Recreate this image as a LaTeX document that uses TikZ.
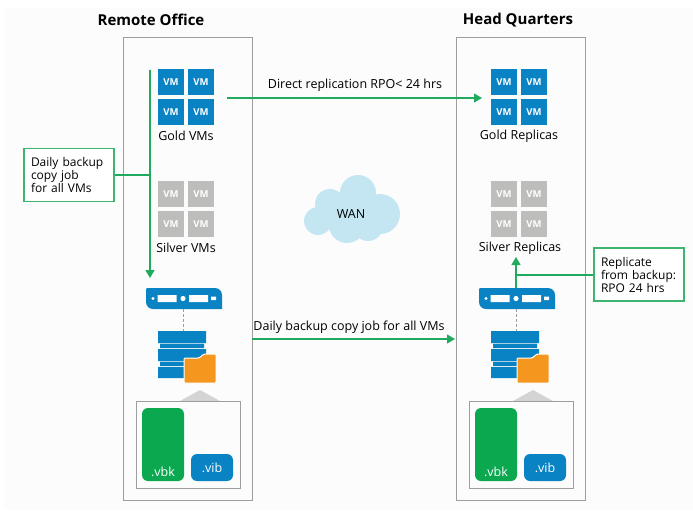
\documentclass[tikz,border=0pt]{standalone}
\usepackage{fontspec}
\setmainfont{Open Sans}
\usepackage{tikz}
\usetikzlibrary{positioning, arrows.meta}
\definecolor{vmblue}{HTML}{0A83C4}
\definecolor{vmgray}{HTML}{BDBDBB}
\definecolor{linegreen}{HTML}{1FAA5E}
\definecolor{boxgreen}{HTML}{3DB56F}
\definecolor{vbkgreen}{HTML}{0BA84F}
\definecolor{folderorange}{HTML}{F5961F}
\definecolor{cloudblue}{HTML}{C4E6F3}
\definecolor{framegray}{HTML}{A09E9C}
\definecolor{paper}{HTML}{FCFCFC}
\tikzset{
  office/.style={draw=framegray, line width=1pt, minimum width=129pt, minimum height=463pt, inner sep=0pt},
  title/.style={font=\fontsize{15}{17}\selectfont\bfseries},
  vmtile/.style={minimum size=25.5pt, inner sep=0pt, text=white, font=\fontsize{9.5}{10}\selectfont\bfseries},
  caption/.style={font=\fontsize{12.5}{14}\selectfont},
  callout/.style={draw=boxgreen, line width=1.3pt, fill=white, minimum width=90pt, minimum height=53pt, inner sep=7pt, align=left, font=\fontsize{12}{13}\selectfont, text width=76pt},
  link/.style={draw=linegreen, line width=1.3pt, -{Triangle[length=8pt, width=9pt]}},
  plainlink/.style={draw=linegreen, line width=1.3pt},
  backup/.style={rounded corners=6pt, inner sep=0pt, minimum width=42pt, text=white, font=\fontsize{12.5}{14}\selectfont}
}
\begin{document}
\begin{tikzpicture}[x=1pt, y=-1pt]
\useasboundingbox (0,0) rectangle (693,515);
\fill[white] (0,0) rectangle (693,515);
\fill[paper] (4,8) rectangle (693,510);

\node (remote) [office] at (187.5,268.5) {};
\node (hq) [office] at (520.5,268.5) {};
\node (remoteTitle) [title] at (151,20) {Remote Office};
\node (hqTitle) [title] at (518,20) {Head Quarters};

% tiles, server, storage and files are the same in both offices
\foreach \ox/\pre in {0/rem, 333/hq} {
  \foreach \tx/\ty/\tid in {171/82/a, 201/82/b, 171/112/c, 201/112/d} {
    \node (\pre gold\tid) [vmtile, fill=vmblue] at (\tx+\ox,\ty) {VM};
  }
  \foreach \tx/\ty/\tid in {171/194/a, 201/194/b, 171/224/c, 201/224/d} {
    \node (\pre silver\tid) [vmtile, fill=vmgray] at (\tx+\ox,\ty) {VM};
  }
  \coordinate (\pre srvbot) at (183+\ox,309);
  \coordinate (\pre stortop) at (183+\ox,331);
  \fill[vmblue] (146+\ox,288) [rounded corners=7pt] -- (222+\ox,288) [sharp corners] -- (222+\ox,309) [rounded corners=7pt] -- (146+\ox,309) [rounded corners=1pt] -- cycle;
  \fill[white] (153+\ox,298.5) circle (1.6pt) (183+\ox,298.5) circle (2.6pt);
  \fill[white] (157.5+\ox,295) rectangle (176.5+\ox,302) (189+\ox,295) rectangle (208+\ox,302) (211+\ox,296.5) rectangle (216+\ox,300);
  \draw[framegray, densely dashed, line width=1pt] (\pre srvbot) -- (\pre stortop);
  % storage stack with the folder on top
  \fill[vmblue] (158+\ox,331) rectangle (206+\ox,343) (160+\ox,343.8) rectangle (204+\ox,348.2) (158+\ox,349) rectangle (206+\ox,361) (160+\ox,361.8) rectangle (204+\ox,366.2) (158+\ox,367) rectangle (206+\ox,378);
  \fill[folderorange, draw=white, line width=1pt, rounded corners=1pt] (184+\ox,358) -- (199+\ox,358) -- (204+\ox,354) -- (216+\ox,354) -- (216+\ox,383) -- (184+\ox,383) -- cycle;
  \fill[black!17] (180+\ox,401) -- (200+\ox,390) -- (220+\ox,401) -- cycle;
  \node (\pre files) [draw=framegray, line width=1pt, fill=paper, minimum width=104pt, minimum height=87pt, inner sep=0pt] at (188+\ox,444.5) {};
  \node (\pre vbk) [backup, fill=vbkgreen, minimum height=73pt, label={[text=white, anchor=south, yshift=1pt, font=\fontsize{12.5}{14}\selectfont]south:.vbk}] at (163+\ox,444.5) {};
  \node (\pre vib) [backup, fill=vmblue, minimum height=27pt, text depth=0pt] at (212+\ox,467.5) {.vib};
}

\node (goldVMs) [caption] at (186,136) {Gold VMs};
\node (silverVMs) [caption] at (186,248) {Silver VMs};
\node (goldRep) [caption] at (519,136) {Gold Replicas};
\node (silverRep) [caption] at (520,248) {Silver Replicas};

% WAN cloud
\fill[cloudblue] (358,193) circle (18pt) (330,204) circle (15pt) (318,221) circle (14pt) (380,214) circle (20pt) (347,225) circle (18pt) (368,226) circle (15pt) (345,210) circle (15pt);
\node (wan) [caption] at (351,214) {WAN};

\node (dailyBox) [callout] at (69,175) {Daily backup\\copy job\\for all VMs};
\node (replBox) [callout] at (639,274.5) {Replicate\\from backup:\\RPO 24 hrs};

\coordinate (copyTop) at (150,70);
\coordinate (copyEnd) at (150,278);
\coordinate (copyJoin) at (150,175);
\coordinate (directStart) at (227,98);
\coordinate (directEnd) at (482,98);
\coordinate (dailyStart) at (252,339);
\coordinate (dailyEnd) at (455,339);
\coordinate (replStart) at (516,288);
\coordinate (replEnd) at (516,257);
\coordinate (replJoin) at (516,275);

\draw[link] (copyTop) -- (copyEnd);
\draw[plainlink] (dailyBox.east |- copyJoin) -- (copyJoin);
\draw[link] (directStart) -- (directEnd);
\draw[link] (dailyStart) -- (dailyEnd);
\draw[link] (replStart) -- (replEnd);
\draw[plainlink] (replBox.west |- replJoin) -- (replJoin);

\node (directLabel) [caption] at (355,85) {Direct replication RPO< 24 hrs};
\node (dailyLabel) [caption] at (349,327) {Daily backup copy job for all VMs};
\end{tikzpicture}
\end{document}
